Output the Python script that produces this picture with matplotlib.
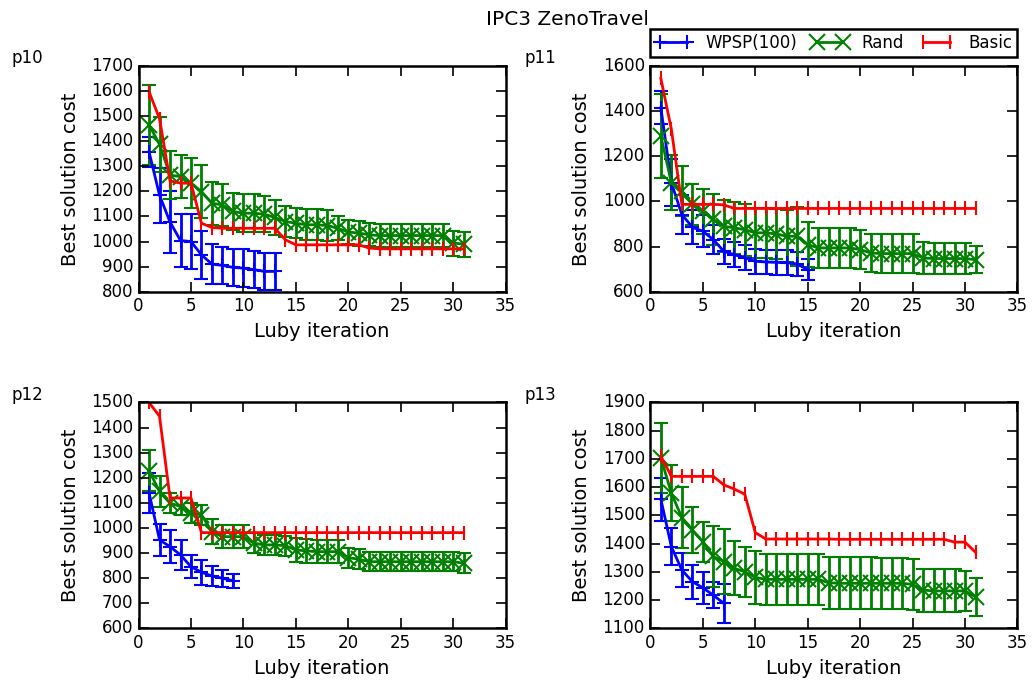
import numpy as np
import matplotlib
matplotlib.use("Agg")
import matplotlib.pyplot as plt

plt.style.use('classic')
plt.rcParams['font.family'] = ['DejaVu Sans']

# mean best cost and std per Luby iteration, per problem
p10_wpsp = [1358, 1185, 1078, 1004, 1000, 947, 910, 905, 897, 894, 888, 881, 881]
p10_wpsp_err = [60, 110, 125, 105, 110, 95, 80, 75, 75, 75, 75, 75, 75]
p10_rand = [1465, 1388, 1265, 1259, 1233, 1199, 1153, 1146, 1120, 1113, 1113, 1109, 1096,
            1080, 1073, 1067, 1067, 1064, 1053, 1038, 1034, 1027, 1024, 1024, 1024, 1024,
            1024, 1024, 1024, 994, 990]
p10_rand_err = [160, 110, 95, 85, 100, 105, 85, 85, 75, 75, 75, 72, 68, 60, 60, 62, 62, 62,
                48, 48, 50, 46, 46, 46, 46, 46, 46, 46, 46, 50, 50]
p10_basic = [1598, 1490, 1242, 1233, 1233, 1073, 1056, 1053, 1053, 1053, 1053, 1053, 1053,
             1007, 987, 987, 987, 987, 987, 987, 987, 974, 971, 971, 971, 971, 971, 971,
             971, 971, 971]

p11_wpsp = [1415, 1083, 942, 886, 868, 831, 779, 764, 750, 735, 732, 730, 729, 723, 698]
p11_wpsp_err = [74, 105, 85, 75, 70, 65, 55, 55, 55, 55, 55, 55, 55, 52, 45]
p11_rand = [1290, 1083, 1046, 987, 957, 920, 890, 883, 875, 861, 861, 856, 846, 846, 809,
            794, 794, 794, 794, 787, 772, 769, 769, 769, 769, 750, 747, 747, 747, 747, 742]
p11_rand_err = [185, 122, 111, 92, 100, 115, 115, 115, 115, 112, 112, 112, 115, 130, 100,
                88, 88, 88, 88, 85, 85, 85, 85, 85, 85, 70, 70, 70, 70, 70, 60]
p11_basic = [1545, 1320, 987, 987, 987, 987, 985, 969, 969, 969, 969, 969, 969, 969, 969,
             969, 969, 969, 969, 969, 969, 969, 969, 969, 969, 969, 969, 969, 969, 969, 969]

p12_wpsp = [1140, 952, 925, 892, 845, 823, 808, 799, 789]
p12_wpsp_err = [80, 63, 65, 60, 47, 50, 40, 33, 28]
p12_rand = [1228, 1145, 1099, 1085, 1059, 1052, 985, 965, 965, 965, 939, 932, 932, 929, 912,
            908, 905, 905, 905, 881, 875, 865, 865, 865, 865, 865, 865, 865, 865, 865, 859]
p12_rand_err = [83, 60, 40, 35, 40, 40, 50, 47, 47, 47, 40, 40, 40, 40, 47, 47, 47, 47, 47,
                40, 40, 38, 38, 38, 38, 38, 38, 38, 38, 38, 40]
p12_basic = [1500, 1445, 1119, 1119, 1119, 981, 981, 981, 981, 981, 981, 981, 981, 981, 981,
             981, 981, 981, 981, 981, 981, 981, 981, 981, 981, 981, 981, 981, 981, 981, 981]

p13_wpsp = [1557, 1389, 1306, 1265, 1243, 1217, 1188]
p13_wpsp_err = [77, 66, 60, 60, 56, 47, 70]
p13_rand = [1703, 1579, 1492, 1448, 1407, 1354, 1336, 1312, 1300, 1280, 1273, 1273, 1273,
            1273, 1273, 1273, 1261, 1259, 1259, 1259, 1259, 1259, 1259, 1259, 1255, 1235,
            1232, 1232, 1232, 1232, 1211]
p13_rand_err = [125, 100, 107, 83, 71, 108, 115, 96, 88, 95, 90, 90, 90, 90, 90, 90, 92, 92,
                92, 92, 92, 90, 90, 90, 90, 76, 76, 76, 76, 70, 68]
p13_basic = [1709, 1638, 1638, 1638, 1638, 1638, 1608, 1593, 1575, 1439, 1416, 1416, 1416,
             1416, 1416, 1416, 1416, 1415, 1415, 1415, 1415, 1415, 1415, 1415, 1415, 1415,
             1415, 1415, 1405, 1405, 1369]

panels = [
    ("p10", p10_wpsp, p10_wpsp_err, p10_rand, p10_rand_err, p10_basic, (800, 1700, 100)),
    ("p11", p11_wpsp, p11_wpsp_err, p11_rand, p11_rand_err, p11_basic, (600, 1600, 200)),
    ("p12", p12_wpsp, p12_wpsp_err, p12_rand, p12_rand_err, p12_basic, (600, 1500, 100)),
    ("p13", p13_wpsp, p13_wpsp_err, p13_rand, p13_rand_err, p13_basic, (1100, 1900, 100)),
]

fig = plt.figure(figsize=(10.34, 6.88), dpi=100, facecolor='white')
positions = [(0.134, 0.576), (0.629, 0.576), (0.134, 0.087), (0.629, 0.087)]
name_x = [0.011, 0.507, 0.011, 0.507]
w, h = 0.355, 0.328

for (name, wp, wp_e, rd, rd_e, bs, (ylo, yhi, ystep)), (l, b), nx in zip(panels, positions, name_x):
    ax = fig.add_axes([l, b, w, h])
    ax.set_facecolor('white')
    x_wp = np.arange(1, len(wp) + 1)
    x_rd = np.arange(1, len(rd) + 1)
    x_bs = np.arange(1, len(bs) + 1)

    ax.errorbar(x_wp, wp, yerr=wp_e, fmt='none', ecolor='b', elinewidth=2,
                capsize=5, capthick=1.5)
    ax.errorbar(x_rd, rd, yerr=rd_e, fmt='none', ecolor='g', elinewidth=2,
                capsize=5, capthick=1.5)
    l_wp, = ax.plot(x_wp, wp, color='b', lw=2, marker='+', ms=10, mew=1.5)
    l_rd, = ax.plot(x_rd, rd, color='g', lw=2, marker='x', ms=11, mew=1.5)
    l_bs, = ax.plot(x_bs, bs, color='r', lw=2, marker='|', ms=10, mew=1.5)

    ax.set_xlim(0, 35)
    ax.set_ylim(ylo, yhi)
    ax.set_xticks(np.arange(0, 36, 5))
    ax.set_yticks(np.arange(ylo, yhi + 1, ystep))
    ax.tick_params(labelsize=12, length=7, width=1.2)
    for sp in ax.spines.values():
        sp.set_linewidth(1.8)
    ax.set_xlabel("Luby iteration", fontsize=14)
    ax.set_ylabel("Best solution cost", fontsize=14, labelpad=8)

    fig.text(nx, b + h + 0.004, name, fontsize=12, ha='left', va='baseline')

    if name == "p11":
        leg = ax.legend([l_wp, l_rd, l_bs], ["WPSP(100)", "Rand", "Basic"], loc='lower left',
                        bbox_to_anchor=(0.0, 1.04, 1.0, 0.1), mode='expand', ncol=3,
                        numpoints=2, fontsize=12, borderaxespad=0.0, handlelength=2.2,
                        handletextpad=0.8, columnspacing=0.5, borderpad=0.3,
                        fancybox=False, framealpha=1)
        leg.get_frame().set_linewidth(1.8)

fig.text(0.549, 0.971, "IPC3 ZenoTravel", fontsize=14.5, ha='center', va='center')

fig.savefig("out.png", dpi=100, facecolor='white')
